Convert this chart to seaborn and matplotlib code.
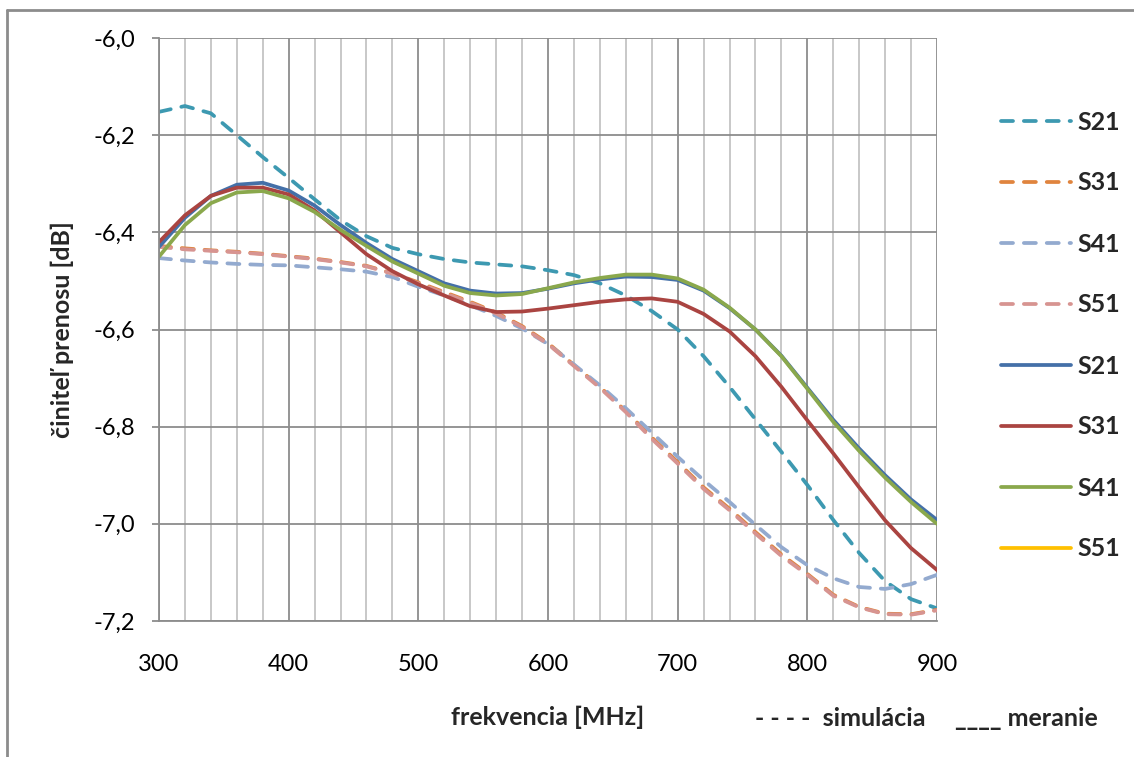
"""Transmission coefficient vs frequency: simulation (dashed) and measurement (solid)."""

import matplotlib
matplotlib.use("Agg")
import matplotlib.pyplot as plt
import numpy as np
import pandas as pd
import seaborn as sns
from matplotlib.lines import Line2D
from matplotlib.ticker import FuncFormatter, MultipleLocator

FREQ = list(range(300, 901, 20))

SIM_S21 = [-6.152, -6.140, -6.155, -6.200, -6.245, -6.288, -6.332, -6.375, -6.408, -6.432,
           -6.445, -6.455, -6.462, -6.466, -6.470, -6.478, -6.488, -6.505, -6.530, -6.562,
           -6.600, -6.655, -6.718, -6.785, -6.852, -6.920, -6.992, -7.060, -7.118, -7.155, -7.174]
SIM_S31 = [-6.428, -6.433, -6.437, -6.440, -6.444, -6.449, -6.454, -6.461, -6.469, -6.484,
           -6.503, -6.523, -6.543, -6.565, -6.593, -6.628, -6.673, -6.718, -6.768, -6.822,
           -6.873, -6.925, -6.969, -7.017, -7.063, -7.103, -7.146, -7.171, -7.185, -7.186, -7.177]
SIM_S41 = [-6.453, -6.458, -6.462, -6.465, -6.467, -6.468, -6.472, -6.476, -6.481, -6.492,
           -6.512, -6.530, -6.550, -6.572, -6.598, -6.630, -6.672, -6.715, -6.762, -6.812,
           -6.862, -6.910, -6.955, -7.002, -7.048, -7.085, -7.112, -7.130, -7.134, -7.124, -7.105]
SIM_S51 = [-6.430, -6.435, -6.438, -6.441, -6.445, -6.450, -6.455, -6.462, -6.470, -6.485,
           -6.505, -6.525, -6.545, -6.567, -6.595, -6.630, -6.675, -6.720, -6.770, -6.825,
           -6.876, -6.928, -6.972, -7.020, -7.066, -7.105, -7.148, -7.172, -7.186, -7.187, -7.178]

MEAS_S21 = [-6.430, -6.370, -6.325, -6.302, -6.298, -6.314, -6.345, -6.385, -6.422, -6.455,
            -6.480, -6.505, -6.520, -6.526, -6.525, -6.516, -6.505, -6.497, -6.491, -6.492,
            -6.498, -6.520, -6.556, -6.600, -6.654, -6.720, -6.786, -6.845, -6.900, -6.950, -6.992]
MEAS_S31 = [-6.420, -6.365, -6.325, -6.308, -6.308, -6.322, -6.355, -6.400, -6.445, -6.480,
            -6.507, -6.530, -6.552, -6.564, -6.563, -6.557, -6.550, -6.543, -6.538, -6.536,
            -6.543, -6.568, -6.604, -6.655, -6.718, -6.787, -6.855, -6.925, -6.993, -7.050, -7.095]
MEAS_S41 = [-6.450, -6.385, -6.340, -6.318, -6.315, -6.330, -6.358, -6.395, -6.428, -6.460,
            -6.485, -6.510, -6.525, -6.530, -6.527, -6.515, -6.503, -6.494, -6.487, -6.487,
            -6.495, -6.518, -6.555, -6.600, -6.655, -6.722, -6.790, -6.850, -6.905, -6.955, -7.000]

LABELS = ["S21", "S31", "S41", "S51"]
SIM_COLORS = ["#3D99B1", "#E0843E", "#93AACF", "#D79491"]
MEAS_COLORS = ["#4470A8", "#AA4441", "#8AA84C", "#FFC000"]

FONT = ["Lato", "DejaVu Sans"]
DASH = (0, (3.2, 2.9))
LW = 2.7
TICKSIZE = 17
LABELSIZE = 18


def main() -> None:
  sns.set_theme(style = "white")
  plt.rcParams["font.family"] = FONT

  fig = plt.figure(figsize = (11.34, 7.57), dpi = 100)
  ax = fig.add_axes([159 / 1134, 1 - 621 / 757, (937 - 159) / 1134, (621 - 38) / 757])

  sims = [SIM_S21, SIM_S31, SIM_S41, SIM_S51]
  meas = [MEAS_S21, MEAS_S31, MEAS_S41]
  for values, color in zip(sims, SIM_COLORS) :
    df = pd.DataFrame({"f" : FREQ, "v" : values})
    sns.lineplot(data = df, x = "f", y = "v", ax = ax, color = color, linewidth = LW,
                 linestyle = DASH, dash_capstyle = "round", solid_joinstyle = "round")
  for values, color in zip(meas, MEAS_COLORS) :
    df = pd.DataFrame({"f" : FREQ, "v" : values})
    sns.lineplot(data = df, x = "f", y = "v", ax = ax, color = color, linewidth = LW,
                 solid_joinstyle = "round")

  ax.set_xlim(300, 900)
  ax.set_ylim(-7.2, -6.0)
  ax.xaxis.set_major_locator(MultipleLocator(100))
  ax.xaxis.set_minor_locator(MultipleLocator(20))
  ax.yaxis.set_major_locator(MultipleLocator(0.2))
  ax.yaxis.set_major_formatter(FuncFormatter(lambda v, _ : f"{v:.1f}".replace(".", ",")))
  ax.grid(True, which = "major", axis = "both", color = "#8C8C8C", linewidth = 1.3)
  ax.grid(True, which = "minor", axis = "x", color = "#C4C4C4", linewidth = 1.3)
  ax.set_axisbelow(True)
  for side in ["top", "right"] :
    ax.spines[side].set_visible(False)
  for side in ["left", "bottom"] :
    ax.spines[side].set_color("#8C8C8C")
    ax.spines[side].set_linewidth(1.3)
  ax.tick_params(axis = "y", which = "major", left = True, length = 5, width = 1.3, color = "#8C8C8C",
                 pad = 12, labelsize = TICKSIZE, labelcolor = "black")
  ax.tick_params(axis = "x", which = "both", bottom = False, length = 0, pad = 24, labelsize = TICKSIZE,
                 labelcolor = "black")

  ax.set_xlabel("")
  ax.set_ylabel("činiteľ prenosu [dB]", fontsize = LABELSIZE, fontweight = "bold", labelpad = 14)
  fig.text(548 / 1134, 1 - 717 / 757, "frekvencia [MHz]", ha = "center", va = "center",
           fontsize = LABELSIZE, fontweight = "bold")
  fig.text(755 / 1134, 1 - 718 / 757, "- - - -  simulácia", ha = "left", va = "center",
           fontsize = LABELSIZE, fontweight = "bold")
  fig.text(955 / 1134, 1 - 718 / 757, "____ meranie", ha = "left", va = "center",
           fontsize = LABELSIZE, fontweight = "bold")

  handles = [Line2D([], [], color = c, linewidth = LW, linestyle = DASH, dash_capstyle = "round")
             for c in SIM_COLORS]
  handles += [Line2D([], [], color = c, linewidth = LW) for c in MEAS_COLORS]
  fig.legend(handles, LABELS + LABELS, loc = "upper left", bbox_to_anchor = (978 / 1134, 1 - 88 / 757),
             frameon = False, handlelength = 2.8, handletextpad = 0.28, labelspacing = 1.52,
             prop = {"family" : FONT, "size" : LABELSIZE, "weight" : "bold"})

  fig.add_artist(Line2D([7 / 1134, 7 / 1134], [0, 1 - 10 / 757], color = "#8C8C8C", linewidth = 2))
  fig.add_artist(Line2D([7 / 1134, 1], [1 - 10 / 757, 1 - 10 / 757], color = "#8C8C8C", linewidth = 2))

  fig.savefig("out.png", dpi = 100, facecolor = "white")
  plt.close(fig)


if __name__ == "__main__" :
  main()
